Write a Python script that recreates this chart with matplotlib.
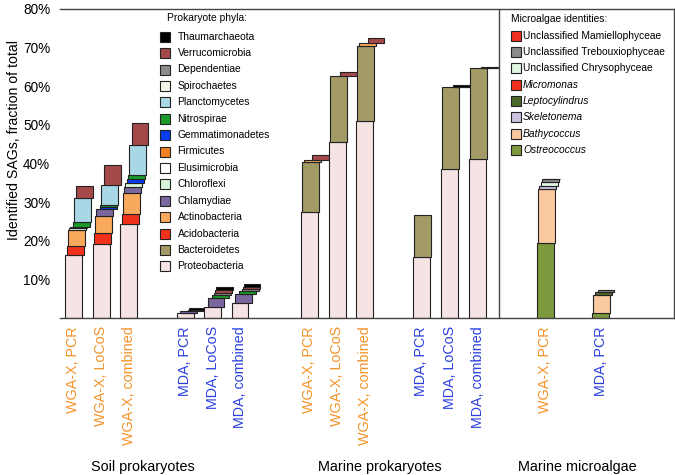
import matplotlib
matplotlib.use("Agg")
import matplotlib.pyplot as plt
import numpy as np

plt.rcParams['font.family'] = ['Liberation Sans', 'DejaVu Sans']

# ---- data (percent of total SAGs) ----
bar_labels = ["WGA-X, PCR", "WGA-X, LoCoS", "WGA-X, combined",
              "MDA, PCR", "MDA, LoCoS", "MDA, combined",
              "WGA-X, PCR", "WGA-X, LoCoS", "WGA-X, combined",
              "MDA, PCR", "MDA, LoCoS", "MDA, combined",
              "WGA-X, PCR", "MDA, PCR"]
bar_pos = [0, 1, 2, 4.04, 5.02, 6.01,
           8.52, 9.53, 10.52, 12.56, 13.59, 14.6,
           17.04, 19.04]
groups = ["Soil prokaryotes", "Marine prokaryotes", "Marine microalgae"]
group_pos = [2.51, 11.06, 18.2]

# prokaryote phyla, bottom to top of stack
phyla = ["Proteobacteria", "Bacteroidetes", "Acidobacteria", "Actinobacteria",
         "Chlamydiae", "Chloroflexi", "Elusimicrobia", "Firmicutes",
         "Gemmatimonadetes", "Nitrospirae", "Planctomycetes", "Spirochaetes",
         "Dependentiae", "Verrucomicrobia", "Thaumarchaeota"]
phyla_colors = ["#f6e3e3", "#a39a66", "#f0311c", "#f9a95c",
                "#7a679e", "#d9f5d9", "#ffffff", "#f58220",
                "#0a3cf0", "#1a9a2a", "#a8d8e6", "#f5f5e6",
                "#8c8c8c", "#a5484a", "#000000"]

# 12 prokaryote bars x 15 phyla
soil_wga_pcr = [16.3, 0, 2.3, 4.1, 0, 0.5, 0.3, 0, 0, 1.3, 6.2, 0, 0, 3.1, 0]
soil_wga_locos = [19.1, 0, 2.8, 4.4, 1.8, 0, 0, 0, 0.6, 0.5, 5.2, 0, 0, 5.2, 0]
soil_wga_comb = [24.3, 0, 2.7, 5.3, 1.5, 1.2, 0, 0, 1.0, 1.1, 7.8, 0, 0, 5.7, 0]
soil_mda_pcr = [1.2, 0, 0, 0.2, 0.3, 0, 0, 0, 0, 0, 0, 0, 0, 0.5, 0.3]
soil_mda_locos = [2.8, 0, 0, 0, 2.4, 0, 0, 0, 0, 0.8, 0, 0, 0.4, 0.8, 0.8]
soil_mda_comb = [3.9, 0, 0, 0, 2.3, 0, 0, 0, 0, 0.8, 0, 0, 0.4, 0.7, 0.8]
marine_wga_pcr = [27.4, 12.9, 0, 0.7, 0, 0, 0, 0, 0, 0, 0, 0, 0, 1.2, 0]
marine_wga_locos = [45.6, 17.0, 0, 0, 0, 0, 0, 0, 0, 0, 0, 0, 0, 1.1, 0]
marine_wga_comb = [50.9, 19.6, 0, 0.8, 0, 0, 0, 0, 0, 0, 0, 0, 0, 1.3, 0]
marine_mda_pcr = [15.7, 11.0, 0, 0, 0, 0, 0, 0, 0, 0, 0, 0, 0, 0, 0]
marine_mda_locos = [38.6, 21.1, 0, 0, 0, 0, 0, 0, 0, 0, 0, 0, 0, 0.2, 0.3]
marine_mda_comb = [41.2, 23.4, 0, 0, 0, 0, 0, 0, 0, 0, 0, 0, 0, 0.2, 0.3]

# microalgae, bottom to top of stack
algae = ["Ostreococcus", "Bathycoccus", "Skeletonema", "Leptocylindrus",
         "Micromonas", "Unclassified Chrysophyceae",
         "Unclassified Trebouxiophyceae", "Unclassified Mamiellophyceae"]
algae_italic = [True, True, True, True, True, False, False, False]
algae_colors = ["#7d9a3e", "#fbc9a0", "#c9c1dd", "#4e6a2a",
                "#f0301c", "#e0f5e2", "#8a8a8a", "#f0301c"]
algae_wga_pcr = [19.4, 13.9, 0.8, 0, 0, 1.1, 0.7, 0.2]
algae_mda_pcr = [1.2, 4.7, 0, 0.8, 0, 0, 0.6, 0]

prok_bars = [soil_wga_pcr, soil_wga_locos, soil_wga_comb,
             soil_mda_pcr, soil_mda_locos, soil_mda_comb,
             marine_wga_pcr, marine_wga_locos, marine_wga_comb,
             marine_mda_pcr, marine_mda_locos, marine_mda_comb]
algae_bars = [algae_wga_pcr, algae_mda_pcr]

W, H = 675, 475
fig = plt.figure(figsize=(W / 100, H / 100), dpi=100)
ax = fig.add_axes([60 / W, 1 - 318 / H, 614 / W, 309 / H])

width = 0.61
step = 0.031   # small sideways shift per stack level (staircase look)


def draw_stack(x, values, colors):
    bottom = 0.0
    for k, (v, c) in enumerate(zip(values, colors)):
        if v > 0:
            ax.bar(x + k * step, v, width, bottom=bottom, color=c,
                   edgecolor="#222222", linewidth=0.8, align="center")
        bottom += v


for x, vals in zip(bar_pos[:12], prok_bars):
    draw_stack(x, vals, phyla_colors)
for x, vals in zip(bar_pos[12:], algae_bars):
    draw_stack(x, vals, algae_colors)

ax.set_xlim(-0.487, 21.68)
ax.set_ylim(0, 80)
ax.set_yticks(np.arange(10, 81, 10))
ax.set_yticklabels(["%d%%" % v for v in range(10, 81, 10)], fontsize=9.8)
ax.tick_params(axis="y", length=0, pad=7)
ax.spines["left"].set_visible(False)
for s in ["top", "right", "bottom"]:
    ax.spines[s].set_color("#444444")
    ax.spines[s].set_linewidth(1.0)
ax.axvline(15.36, color="#444444", linewidth=1.0)

ax.set_xticks(bar_pos)
ax.set_xticklabels(bar_labels, rotation=90, fontsize=10.3, va="top")
ax.tick_params(axis="x", length=0, pad=6)
for lbl in ax.get_xticklabels():
    lbl.set_color("#f39226" if lbl.get_text().startswith("WGA") else "#2a3fe0")

for gx, g in zip(group_pos, groups):
    ax.text(gx, -0.482, g, transform=ax.get_xaxis_transform(),
            ha="center", va="center", fontsize=10.4)

fig.text(14 / W, 1 - 140 / H, "Identified SAGs, fraction of total",
         rotation=90, ha="center", va="center", fontsize=10.2)

# ---- hand-placed legends ----
fs_leg = 7.4
fig.text(167 / W, 1 - 18 / H, "Prokaryote phyla:", fontsize=fs_leg,
         ha="left", va="center")
for i, name in enumerate(phyla[::-1]):
    y = 1 - (36.7 + 16.4 * i) / H
    col = phyla_colors[::-1][i]
    fig.lines.append(plt.Line2D([165 / W], [y], marker="s", markersize=6.8,
                                markerfacecolor=col, markeredgecolor="#222222",
                                markeredgewidth=0.8, transform=fig.transFigure))
    fig.text(177.5 / W, y, name, fontsize=fs_leg, ha="left", va="center")

fig.text(511 / W, 1 - 19 / H, "Microalgae identities:", fontsize=fs_leg,
         ha="left", va="center")
for i, name in enumerate(algae[::-1]):
    y = 1 - (35.7 + 16.3 * i) / H
    col = algae_colors[::-1][i]
    fig.lines.append(plt.Line2D([516 / W], [y], marker="s", markersize=6.8,
                                markerfacecolor=col, markeredgecolor="#222222",
                                markeredgewidth=0.8, transform=fig.transFigure))
    fig.text(523 / W, y, name, fontsize=fs_leg, ha="left", va="center",
             style="italic" if algae_italic[::-1][i] else "normal")

fig.savefig("out.png", dpi=100)
